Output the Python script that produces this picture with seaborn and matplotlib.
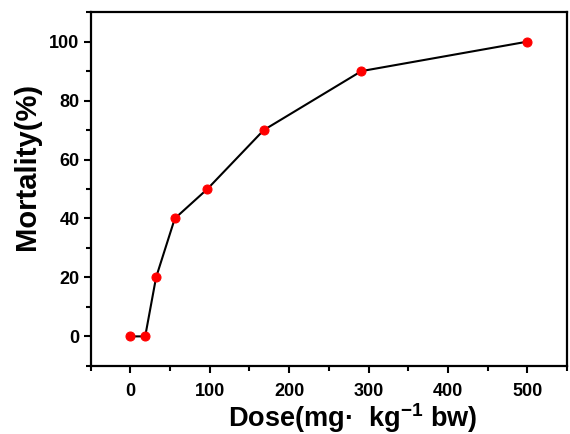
import matplotlib
matplotlib.use('Agg')
import matplotlib.pyplot as plt
import seaborn as sns
from matplotlib.ticker import MultipleLocator

dose = [0, 18.7, 32.4, 56, 97, 168, 291, 500]
mortality = [0, 0, 20, 40, 50, 70, 90, 100]

sns.set_style('ticks', {'axes.edgecolor': 'black', 'text.color': 'black',
                        'axes.labelcolor': 'black', 'xtick.color': 'black',
                        'ytick.color': 'black'})
plt.rcParams['font.family'] = ['Liberation Sans', 'DejaVu Sans']
plt.rcParams['font.weight'] = 'bold'
plt.rcParams['mathtext.fontset'] = 'custom'
plt.rcParams['mathtext.rm'] = 'Liberation Sans:bold'
plt.rcParams['mathtext.default'] = 'rm'

fig = plt.figure(figsize=(5.7, 4.34), dpi=100)
ax = fig.add_axes([0.159, 0.157, 0.836, 0.815])

sns.lineplot(x=dose, y=mortality, ax=ax, color='black', linewidth=1.5,
             marker='o', markersize=6.5, markerfacecolor='red',
             markeredgecolor='red')

ax.set_xlim(-50, 550)
ax.set_ylim(-10, 110)
ax.xaxis.set_major_locator(MultipleLocator(100))
ax.xaxis.set_minor_locator(MultipleLocator(50))
ax.yaxis.set_major_locator(MultipleLocator(20))
ax.yaxis.set_minor_locator(MultipleLocator(10))
ax.tick_params(which='major', direction='out', width=1.5, length=5,
               labelsize=13, pad=3, colors='black')
ax.tick_params(axis='x', which='major', pad=7)
ax.tick_params(which='minor', direction='out', width=1.5, length=3.5,
               colors='black')
for s in ax.spines.values():
    s.set_linewidth(1.6)
    s.set_color('black')
    s.set_visible(True)
for lab in ax.get_xticklabels() + ax.get_yticklabels():
    lab.set_fontweight('bold')

ax.set_xlabel(r'Dose(mg·  kg$^{\mathrm{-1}}$ bw)', fontsize=19.5, fontweight='bold')
ax.set_ylabel('Mortality(%)', fontsize=21, fontweight='bold')
ax.xaxis.label.set_va('baseline')
ax.xaxis.set_label_coords(0.55, -0.172)
ax.yaxis.set_label_coords(-0.105, 0.565)

fig.savefig('out.png', dpi=100)
